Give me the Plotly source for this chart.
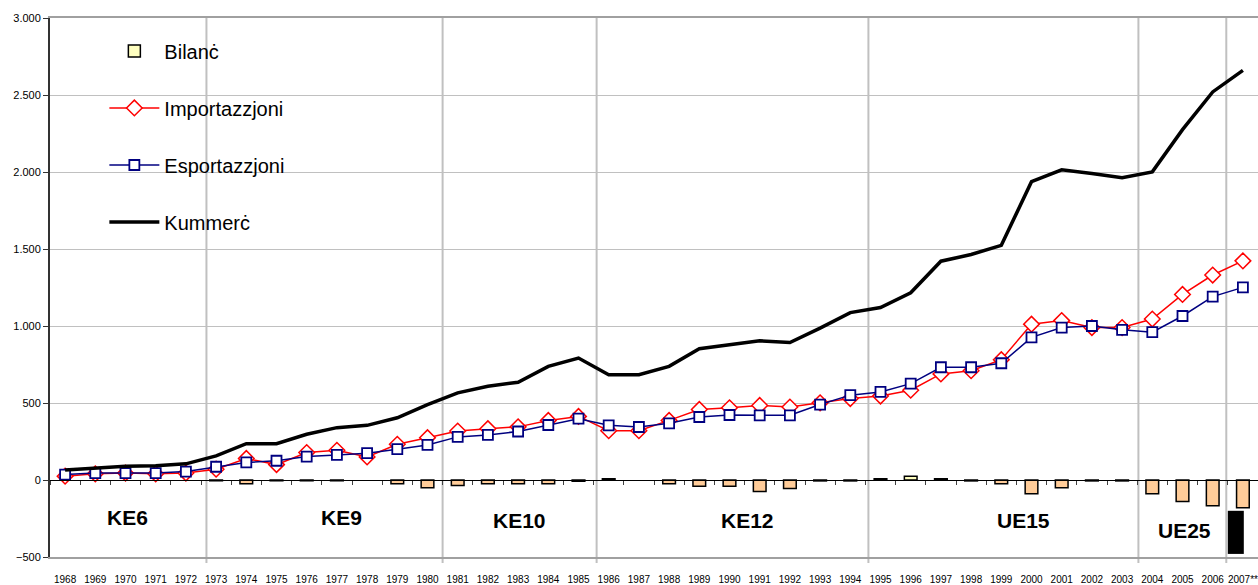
import plotly.graph_objects as go

years = ["1968", "1969", "1970", "1971", "1972", "1973", "1974", "1975", "1976", "1977",
         "1978", "1979", "1980", "1981", "1982", "1983", "1984", "1985", "1986", "1987",
         "1988", "1989", "1990", "1991", "1992", "1993", "1994", "1995", "1996", "1997",
         "1998", "1999", "2000", "2001", "2002", "2003", "2004", "2005", "2006", "2007**"]

kummerc = [65, 80, 90, 92, 105, 157, 236, 236, 297, 340,
           355, 404, 490, 566, 609, 635, 738, 792, 684, 684,
           738, 852, 878, 904, 893, 986, 1087, 1120, 1216, 1421,
           1464, 1524, 1937, 2014, 1990, 1963, 2001, 2275, 2520, 2660]

importazzjoni = [25, 40, 45, 40, 45, 70, 140, 100, 178, 193,
                 150, 232, 275, 318, 333, 345, 387, 413, 320, 320,
                 387, 458, 469, 484, 474, 501, 529, 545, 583, 689,
                 710, 781, 1012, 1035, 990, 990, 1045, 1205, 1331, 1423]

esportazzjoni = [35, 45, 45, 45, 55, 86, 114, 125, 152, 163,
                 174, 200, 228, 280, 293, 315, 357, 398, 355, 344,
                 368, 409, 422, 420, 420, 490, 551, 572, 626, 732,
                 732, 758, 926, 990, 1000, 975, 960, 1065, 1191, 1251]

bilanc = [None, None, None, None, None, -5, -25, -5, -5, -5,
          None, -25, -50, -35, -25, -25, -25, -8, 8, None,
          -25, -40, -40, -75, -55, -6, -6, 8, 25, 8,
          -6, -25, -90, -50, -6, -6, -90, -140, -168, -180]

# unexplained black block under the 2007 bar in the original
block_year = ["2007**"]
block_base = [-200]
block_height = [-280]

blocs = ["KE6", "KE9", "KE10", "KE12", "UE15", "UE25"]
bloc_x = [2.08, 9.14, 15.04, 22.6, 31.74, 37.07]
bloc_y = [-245, -245, -265, -265, -265, -329]

divider_x = [4.68, 12.5, 17.6, 26.6, 35.54, 38.45]

FONT = "Liberation Sans, Arial, sans-serif"

bar_colors = ["#FFFFC0" if (v is None or v > 0) else "#FFCC99" for v in bilanc]

fig = go.Figure()

fig.add_trace(go.Bar(
    x=years, y=bilanc, name="Bilanċ", legendgroup="a",
    marker=dict(color=bar_colors, line=dict(color="black", width=1.5)),
    width=0.42,
))
fig.add_trace(go.Bar(
    x=block_year, y=block_height, base=block_base, showlegend=False,
    marker=dict(color="black", line=dict(width=0)),
    width=0.53, offset=-0.5,
))
fig.add_trace(go.Scatter(
    x=years, y=importazzjoni, name="Importazzjoni", legendgroup="b",
    mode="lines+markers",
    line=dict(color="#FF0000", width=1.5),
    marker=dict(symbol="diamond", size=12, color="white",
                line=dict(color="#FF0000", width=1.5)),
))
fig.add_trace(go.Scatter(
    x=years, y=esportazzjoni, name="Esportazzjoni", legendgroup="c",
    mode="lines+markers",
    line=dict(color="#000080", width=1.5),
    marker=dict(symbol="square", size=10, color="white",
                line=dict(color="#000080", width=1.8)),
))
fig.add_trace(go.Scatter(
    x=years, y=kummerc, name="Kummerċ", legendgroup="d",
    mode="lines", line=dict(color="black", width=3.5),
))
# helper trace for the zero-line category axis
fig.add_trace(go.Scatter(
    x=years, y=[0] * len(years), xaxis="x2", mode="lines",
    line=dict(width=0, color="rgba(0,0,0,0)"), showlegend=False, hoverinfo="skip",
))

shapes = []
# white patch behind legend (covers gridlines)
shapes.append(dict(type="rect", xref="paper", yref="paper",
                   x0=33 / 1208, x1=260 / 1208, y0=(560 - 240) / 542, y1=(560 - 28) / 542,
                   fillcolor="white", line=dict(width=0), layer="between"))
for dx in divider_x:
    shapes.append(dict(type="line", xref="x", yref="paper",
                       x0=dx, x1=dx, y0=-0.011, y1=1,
                       line=dict(color="#C0C0C0", width=2), layer="between"))

annotations = []
for t, ax, ay in zip(blocs, bloc_x, bloc_y):
    annotations.append(dict(x=ax, y=ay, xref="x", yref="y", text=t, showarrow=False,
                            font=dict(family=FONT, size=21, color="black", weight="bold")))

zero_pos = 500 / 3500

fig.update_layout(
    width=1258, height=585,
    margin=dict(l=50, r=0, t=18, b=25),
    paper_bgcolor="white", plot_bgcolor="white",
    separators=",.",
    barmode="overlay",
    showlegend=True,
    legend=dict(x=0.045, y=0.975, xanchor="left", yanchor="top",
                bgcolor="rgba(0,0,0,0)", traceorder="grouped", tracegroupgap=28,
                font=dict(family=FONT, size=20, color="black"), itemwidth=50),
    font=dict(family=FONT, color="black"),
    xaxis=dict(type="category", range=[-0.5, 39.5], showgrid=False,
               showline=True, linecolor="#A0A0A0", linewidth=1.5, mirror=True,
               ticks="", ticklabelstandoff=12,
               tickfont=dict(family=FONT, size=10, color="black"), tickangle=0),
    xaxis2=dict(type="category", range=[-0.5, 39.5], overlaying="x", anchor="free",
                position=zero_pos, showgrid=False, showline=True, linecolor="black",
                linewidth=1, ticks="outside", tickson="boundaries", ticklen=4,
                tickcolor="#404040", showticklabels=False),
    yaxis=dict(range=[-500, 3000], dtick=500, tickformat=",d", showgrid=True,
               gridcolor="#C0C0C0", gridwidth=1, zeroline=False,
               showline=True, linecolor="#333333", linewidth=2,
               ticks="outside", ticklen=5, tickcolor="#333333",
               tickfont=dict(family=FONT, size=11, color="black")),
    shapes=shapes,
    annotations=annotations,
)

fig.write_html(
    "out.html",
    config={"displayModeBar": False},
    post_script="document.body.style.margin='0';document.body.style.overflow='hidden';",
)
